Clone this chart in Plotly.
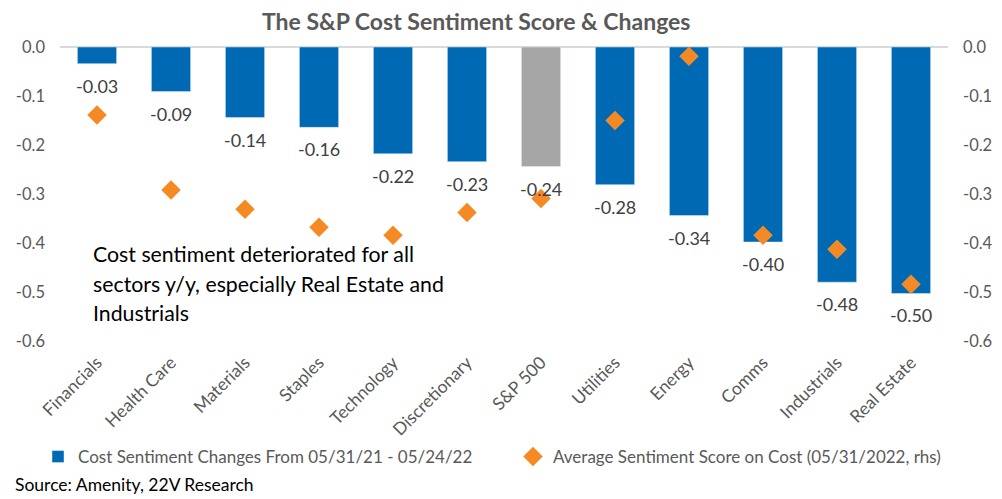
import plotly.graph_objects as go

categories = ["Financials", "Health Care", "Materials", "Staples", "Technology",
              "Discretionary", "S&P 500", "Utilities", "Energy", "Comms",
              "Industrials", "Real Estate"]
changes = [-0.034, -0.091, -0.144, -0.164, -0.218, -0.234, -0.244, -0.281,
           -0.344, -0.398, -0.480, -0.503]
avg_score = [-0.139, -0.292, -0.331, -0.368, -0.384, -0.338, -0.309, -0.150,
             -0.019, -0.384, -0.413, -0.484]
tick_vals = [0.0, -0.1, -0.2, -0.3, -0.4, -0.5, -0.6]
tick_text = ["0.0", "-0.1", "-0.2", "-0.3", "-0.4", "-0.5", "-0.6"]
note_lines = ["Cost sentiment deteriorated for all",
              "sectors y/y, especially Real Estate and",
              "Industrials"]

BLUE = "#0069B4"
GRAY = "#A6A6A6"
ORANGE = "#F58A25"
FONT = "Lato"

# page has an 8px body margin, so the figure is offset by 8px
OFF = 8
W, H = 1002 - OFF, 499 - OFF
ML, MR, MT, MB = 52, 54, 39, 158
PW = W - ML - MR
PH = H - MT - MB


def px_x(px):  # page pixel -> paper
    return (px - OFF - ML) / PW


def px_y(py):
    return (H - MB - (py - OFF)) / PH


bar_colors = [GRAY if c == "S&P 500" else BLUE for c in categories]

fig = go.Figure()
fig.add_trace(go.Bar(
    x=categories, y=changes, marker_color=bar_colors,
    name="Cost Sentiment Changes From 05/31/21 - 05/24/22",
    yaxis="y", legend="legend",
))
fig.add_trace(go.Scatter(
    x=categories, y=avg_score, mode="markers",
    marker=dict(symbol="diamond", size=15, color=ORANGE),
    name="Average Sentiment Score on Cost (05/31/2022, rhs)",
    yaxis="y2", legend="legend2",
))

annotations = []
for c, v in zip(categories, changes):
    annotations.append(dict(
        x=c, y=v, xref="x", yref="y", text=f"{v:.2f}",
        showarrow=False, yshift=-22, font=dict(family=FONT, size=18, color="#404040"),
    ))

annotations.append(dict(
    x=px_x(476), y=px_y(21), xref="paper", yref="paper", yanchor="middle",
    text="<b>The S&P Cost Sentiment Score & Changes</b>", showarrow=False,
    font=dict(family=FONT, size=23, color="#595959"),
))
for i, line in enumerate(note_lines):
    annotations.append(dict(
        x=px_x(91), y=px_y(254 + 29.5 * i), xref="paper", yref="paper",
        xanchor="left", yanchor="middle", align="left", showarrow=False,
        text=line, font=dict(family=FONT, size=21.3, color="#000000"),
    ))
annotations.append(dict(
    x=px_x(13), y=px_y(484), xref="paper", yref="paper", xanchor="left", yanchor="middle",
    showarrow=False, text="Source: Amenity, 22V Research",
    font=dict(family=FONT, size=17.5, color="#000000"),
))

legend_common = dict(orientation="h", xanchor="left", yanchor="middle",
                     font=dict(family=FONT, size=17, color="#595959"),
                     itemclick=False, bgcolor="rgba(0,0,0,0)", borderwidth=0)

fig.update_layout(
    width=W, height=H,
    margin=dict(l=ML, r=MR, t=MT, b=MB, autoexpand=False),
    paper_bgcolor="white", plot_bgcolor="white",
    bargap=0.47,
    font=dict(family=FONT, size=16, color="#595959"),
    showlegend=True,
    legend=dict(x=px_x(38), y=px_y(457), **legend_common),
    legend2=dict(x=px_x(513), y=px_y(457), **legend_common),
    xaxis=dict(range=[-0.5, len(categories) - 0.5], tickangle=-45, showgrid=False,
               showline=False, ticks="", automargin=False, ticklabelstandoff=7,
               tickfont=dict(family=FONT, size=17.5, color="#595959")),
    yaxis=dict(range=[-0.6, 0.0], tickvals=tick_vals, ticktext=tick_text,
               showgrid=False, zeroline=True, zerolinecolor="#D9D9D9", zerolinewidth=2,
               ticks="", ticklabelstandoff=14, automargin=False,
               tickfont=dict(family=FONT, size=16.5, color="#595959")),
    yaxis2=dict(range=[-0.6, 0.0], tickvals=tick_vals, ticktext=tick_text,
                overlaying="y", side="right", showgrid=False, zeroline=False,
                ticks="", ticklabelstandoff=14, automargin=False,
                tickfont=dict(family=FONT, size=16.5, color="#595959")),
    annotations=annotations,
)

fig.write_html("out.html")
